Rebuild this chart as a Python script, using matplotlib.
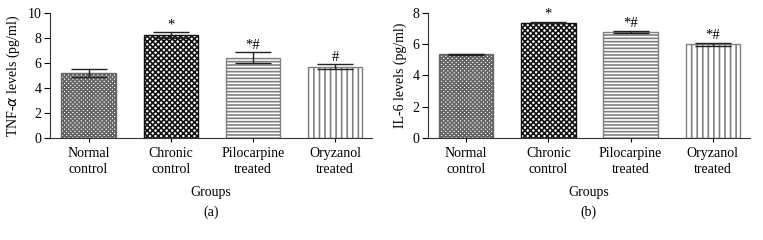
import matplotlib.pyplot as plt
import numpy as np

plt.rcParams['font.family'] = ['Liberation Serif', 'DejaVu Serif']
plt.rcParams['hatch.linewidth'] = 1.2

groups = ["Normal\ncontrol", "Chronic\ncontrol", "Pilocarpine\ntreated", "Oryzanol\ntreated"]

tnf_mean = [5.18, 8.25, 6.43, 5.71]
tnf_err = [0.32, 0.22, 0.43, 0.18]
tnf_marks = ["", "*", "*#", "#"]

il6_mean = [5.36, 7.40, 6.80, 6.00]
il6_err = [0.05, 0.06, 0.06, 0.09]
il6_marks = ["", "*", "*#", "*#"]

hatches = ["xxxxxxxx", "xxxxxx", "-----", "|||"]
hatch_colors = ["#666666", "#111111", "#808080", "#808080"]


def draw_panel(ax, mean, err, marks, ylabel, ymax, letter):
    x = np.arange(len(groups))
    for i in range(len(groups)):
        ax.bar(x[i], mean[i], width=0.66, color="white", edgecolor=hatch_colors[i],
               hatch=hatches[i], linewidth=1.0)
    ax.errorbar(x, mean, yerr=err, fmt="none", ecolor="#222222",
                elinewidth=1.0, capsize=13, capthick=1.0)
    for i in range(len(groups)):
        if marks[i]:
            ax.text(x[i], mean[i] + err[i] + ymax * 0.005, marks[i],
                    ha="center", va="bottom", fontsize=10.5)
    ax.set_xlim(-0.47, 3.45)
    ax.set_ylim(0, ymax)
    ax.set_yticks(np.arange(0, ymax + 1, 2))
    ax.set_xticks(x)
    ax.set_xticklabels(groups, fontsize=10, linespacing=1.25)
    ax.tick_params(axis="y", labelsize=10, direction="out", length=4, pad=2)
    ax.tick_params(axis="x", direction="out", length=3, pad=4)
    ax.spines["top"].set_visible(False)
    ax.spines["right"].set_visible(False)
    for s in ["left", "bottom"]:
        ax.spines[s].set_color("#333333")
    ax.set_ylabel(ylabel, fontsize=10, labelpad=4)
    ax.set_xlabel("Groups", fontsize=10, labelpad=7)
    ax.text(0.5, -0.6, letter, transform=ax.transAxes, ha="center", va="center",
            fontsize=10)


fig = plt.figure(figsize=(7.63, 2.4), dpi=100)
ax1 = fig.add_axes([0.0655, 0.426, 0.422, 0.519])
ax2 = fig.add_axes([0.5605, 0.426, 0.422, 0.519])

draw_panel(ax1, tnf_mean, tnf_err, tnf_marks, "TNF-$\\alpha$ levels (pg/ml)", 10, "(a)")
draw_panel(ax2, il6_mean, il6_err, il6_marks, "IL-6 levels (pg/ml)", 8, "(b)")

fig.savefig("out.png", dpi=100)
